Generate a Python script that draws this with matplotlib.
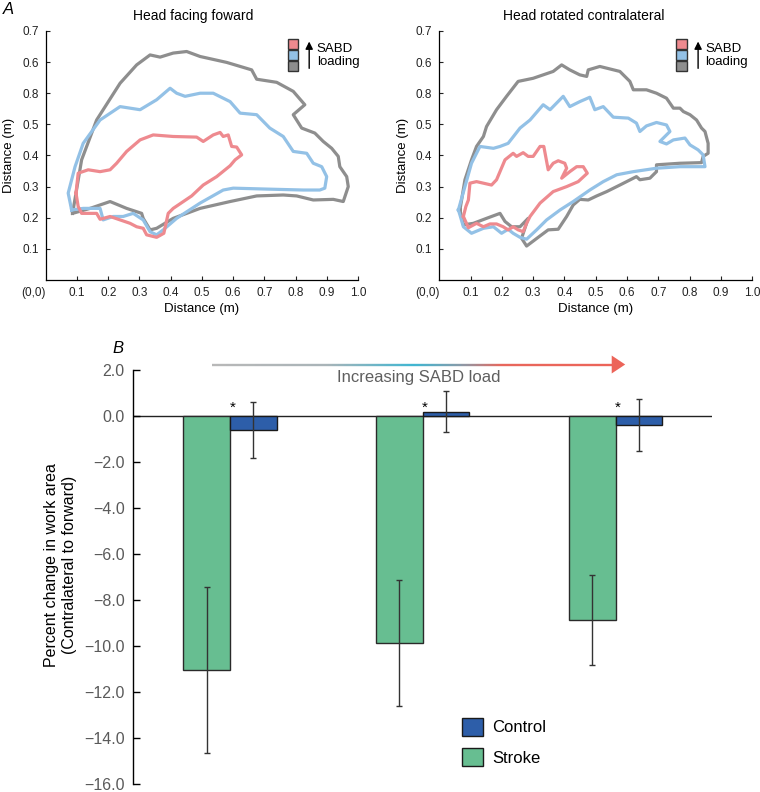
import numpy as np
import matplotlib
matplotlib.use('Agg')
import matplotlib.pyplot as plt
from matplotlib.collections import LineCollection
from matplotlib.colors import LinearSegmentedColormap
from matplotlib.patches import Patch, Rectangle, Polygon

plt.rcParams['font.family'] = ['Liberation Sans', 'DejaVu Sans']

# ---- Panel A: work area contours (x, y in m) ----
fwd_gray_x = [0.086, 0.115, 0.163, 0.238, 0.291, 0.334, 0.366, 0.408, 0.451, 0.494, 0.579, 0.659, 0.675,
              0.739, 0.792, 0.829, 0.792, 0.819, 0.861, 0.888, 0.915, 0.936, 0.941, 0.963, 0.968, 0.952,
              0.920, 0.856, 0.803, 0.760, 0.675, 0.590, 0.494, 0.408, 0.355, 0.334, 0.312, 0.307, 0.259,
              0.206, 0.142, 0.086]
fwd_gray_y = [0.214, 0.386, 0.514, 0.632, 0.691, 0.723, 0.716, 0.729, 0.734, 0.718, 0.699, 0.675, 0.645,
              0.635, 0.606, 0.563, 0.531, 0.488, 0.472, 0.445, 0.423, 0.397, 0.364, 0.332, 0.300, 0.252,
              0.259, 0.257, 0.270, 0.273, 0.270, 0.252, 0.230, 0.198, 0.166, 0.161, 0.198, 0.214, 0.230,
              0.252, 0.230, 0.214]
fwd_blue_x = [0.083, 0.072, 0.094, 0.120, 0.174, 0.238, 0.302, 0.355, 0.398, 0.419, 0.446, 0.494, 0.536,
              0.590, 0.622, 0.675, 0.717, 0.760, 0.792, 0.835, 0.856, 0.883, 0.899, 0.893, 0.877, 0.824,
              0.707, 0.600, 0.568, 0.494, 0.419, 0.376, 0.355, 0.334, 0.312, 0.280, 0.248, 0.216, 0.184,
              0.174, 0.120, 0.083]
fwd_blue_y = [0.225, 0.279, 0.364, 0.439, 0.514, 0.557, 0.547, 0.579, 0.616, 0.600, 0.590, 0.600, 0.600,
              0.573, 0.536, 0.531, 0.488, 0.461, 0.413, 0.407, 0.375, 0.364, 0.332, 0.295, 0.289, 0.289,
              0.292, 0.295, 0.289, 0.247, 0.198, 0.161, 0.145, 0.155, 0.193, 0.214, 0.204, 0.204, 0.193,
              0.230, 0.230, 0.225]
fwd_red_x = [0.097, 0.104, 0.136, 0.174, 0.206, 0.227, 0.259, 0.302, 0.344, 0.408, 0.483, 0.504, 0.536,
             0.558, 0.568, 0.584, 0.595, 0.611, 0.627, 0.606, 0.590, 0.547, 0.504, 0.467, 0.408, 0.392,
             0.378, 0.355, 0.323, 0.312, 0.291, 0.270, 0.238, 0.206, 0.174, 0.163, 0.115, 0.104, 0.097]
fwd_red_y = [0.279, 0.343, 0.354, 0.348, 0.354, 0.375, 0.413, 0.450, 0.466, 0.461, 0.459, 0.445, 0.466,
             0.474, 0.461, 0.466, 0.429, 0.427, 0.402, 0.386, 0.367, 0.332, 0.305, 0.270, 0.230, 0.214,
             0.150, 0.137, 0.145, 0.166, 0.171, 0.182, 0.193, 0.204, 0.195, 0.214, 0.214, 0.236, 0.279]

rot_gray_x = [0.066, 0.082, 0.103, 0.119, 0.141, 0.151, 0.183, 0.215, 0.252, 0.300, 0.364, 0.391, 0.417,
              0.449, 0.471, 0.476, 0.513, 0.577, 0.609, 0.620, 0.662, 0.694, 0.726, 0.737, 0.748, 0.769,
              0.780, 0.801, 0.822, 0.838, 0.849, 0.859, 0.859, 0.843, 0.838, 0.769, 0.694, 0.694, 0.673,
              0.641, 0.630, 0.577, 0.535, 0.503, 0.476, 0.449, 0.428, 0.407, 0.380, 0.348, 0.316, 0.279,
              0.263, 0.284, 0.258, 0.231, 0.210, 0.194, 0.151, 0.109, 0.077, 0.066]
rot_gray_y = [0.225, 0.322, 0.386, 0.429, 0.461, 0.493, 0.547, 0.590, 0.638, 0.648, 0.670, 0.691, 0.675,
              0.659, 0.654, 0.675, 0.686, 0.670, 0.638, 0.611, 0.611, 0.600, 0.584, 0.568, 0.552, 0.552,
              0.541, 0.531, 0.514, 0.488, 0.477, 0.439, 0.407, 0.397, 0.377, 0.375, 0.370, 0.348, 0.327,
              0.322, 0.332, 0.305, 0.284, 0.270, 0.257, 0.259, 0.241, 0.204, 0.163, 0.161, 0.137, 0.109,
              0.134, 0.198, 0.171, 0.171, 0.188, 0.214, 0.198, 0.182, 0.177, 0.225]
rot_blue_x = [0.061, 0.082, 0.103, 0.130, 0.173, 0.194, 0.220, 0.258, 0.290, 0.332, 0.354, 0.396, 0.417,
              0.449, 0.481, 0.497, 0.524, 0.556, 0.604, 0.630, 0.641, 0.662, 0.694, 0.726, 0.737, 0.705,
              0.726, 0.748, 0.785, 0.801, 0.827, 0.843, 0.849, 0.769, 0.694, 0.620, 0.567, 0.524, 0.481,
              0.428, 0.386, 0.343, 0.311, 0.279, 0.258, 0.236, 0.220, 0.199, 0.173, 0.141, 0.103, 0.077,
              0.066, 0.061]
rot_blue_y = [0.225, 0.300, 0.375, 0.429, 0.423, 0.429, 0.439, 0.488, 0.514, 0.563, 0.547, 0.590, 0.557,
              0.573, 0.587, 0.547, 0.557, 0.523, 0.520, 0.504, 0.477, 0.495, 0.506, 0.498, 0.477, 0.445,
              0.437, 0.450, 0.456, 0.434, 0.418, 0.402, 0.364, 0.364, 0.359, 0.348, 0.338, 0.316, 0.289,
              0.252, 0.225, 0.193, 0.161, 0.131, 0.137, 0.150, 0.163, 0.150, 0.171, 0.166, 0.150, 0.171,
              0.209, 0.225]
rot_red_x = [0.077, 0.085, 0.093, 0.098, 0.119, 0.167, 0.183, 0.210, 0.236, 0.247, 0.268, 0.284, 0.300,
             0.311, 0.322, 0.334, 0.348, 0.364, 0.380, 0.401, 0.407, 0.391, 0.417, 0.439, 0.460, 0.473,
             0.444, 0.407, 0.364, 0.322, 0.290, 0.279, 0.268, 0.252, 0.236, 0.220, 0.204, 0.183, 0.162,
             0.141, 0.119, 0.093, 0.077]
rot_red_y = [0.204, 0.236, 0.257, 0.311, 0.316, 0.305, 0.322, 0.386, 0.407, 0.397, 0.409, 0.397, 0.397,
             0.413, 0.429, 0.429, 0.354, 0.375, 0.383, 0.375, 0.359, 0.327, 0.348, 0.364, 0.364, 0.343,
             0.316, 0.300, 0.284, 0.247, 0.204, 0.182, 0.155, 0.161, 0.171, 0.161, 0.171, 0.180, 0.180,
             0.171, 0.182, 0.168, 0.204]

a_xticks = [0.0, 0.1, 0.2, 0.3, 0.4, 0.5, 0.6, 0.7, 0.8, 0.9, 1.0]
a_xlabels = ['(0,0)', '0.1', '0.2', '0.3', '0.4', '0.5', '0.6', '0.7', '0.8', '0.9', '1.0']
a_yticks = [0.1, 0.2, 0.3, 0.4, 0.5, 0.6, 0.7, 0.8]
a_ylabels = ['0.1', '0.2', '0.3', '0.4', '0.5', '0.8', '0.6', '0.7']

# ---- Panel B: percent change in work area ----
groups = [0, 1, 2]
stroke_mean = [-11.05, -9.88, -8.87]
stroke_err = [3.6, 2.75, 1.96]
control_mean = [-0.61, 0.19, -0.39]
control_err = [1.2, 0.9, 1.12]
b_yticks = [2, 0, -2, -4, -6, -8, -10, -12, -14, -16]

RED = '#ee8a8f'
BLUE_L = '#93c1e6'
GRAY = '#8e8e8e'
GREEN = '#67be91'
BLUE = '#2d5ea9'

fig = plt.figure(figsize=(7.6, 7.92), dpi=100)

ax_l = fig.add_axes([0.0601, 0.6465, 0.4113, 0.3144])
ax_r = fig.add_axes([0.5780, 0.6465, 0.4118, 0.3144])

panels = [
    (ax_l, fwd_gray_x, fwd_gray_y, fwd_blue_x, fwd_blue_y, fwd_red_x, fwd_red_y),
    (ax_r, rot_gray_x, rot_gray_y, rot_blue_x, rot_blue_y, rot_red_x, rot_red_y),
]
for ax, gx, gy, bx, by, rx, ry in panels:
    ax.plot(gx, gy, color=GRAY, lw=2.3, solid_joinstyle='round')
    ax.plot(bx, by, color=BLUE_L, lw=2.3, solid_joinstyle='round')
    ax.plot(rx, ry, color=RED, lw=2.3, solid_joinstyle='round')
    ax.set_xlim(0, 1.0)
    ax.set_ylim(0, 0.8)
    ax.spines['top'].set_visible(False)
    ax.spines['right'].set_visible(False)
    ax.spines['left'].set_linewidth(0.9)
    ax.spines['bottom'].set_linewidth(0.9)
    ax.set_xticks(a_xticks)
    ax.set_xticklabels(a_xlabels, fontsize=8.5)
    ax.get_xticklabels()[0].set_ha('right')
    ax.set_yticks(a_yticks)
    ax.set_yticklabels(a_ylabels, fontsize=8.5)
    ax.tick_params(direction='in', length=3, width=0.8, pad=5, colors='#222222')
    ax.xaxis.get_major_ticks()[0].tick1line.set_visible(False)
    ax.set_xlabel('Distance (m)', fontsize=9.5, labelpad=3)
    ax.set_ylabel('Distance (m)', fontsize=9.5, labelpad=5)

    # SABD loading key
    for i, c in enumerate([RED, BLUE_L, GRAY]):
        x0 = 0.774 if ax is ax_l else 0.756
        ax.add_patch(Rectangle((x0, 0.741 - i * 0.035), 0.034, 0.032, facecolor=c,
                               edgecolor='#333333', lw=1.0, clip_on=False))
    xa = 0.843 if ax is ax_l else 0.827
    ax.annotate('', xy=(xa, 0.775), xytext=(xa, 0.671),
                arrowprops=dict(arrowstyle='-|>', color='black', lw=1.0, mutation_scale=11))
    ax.text(xa + 0.024, 0.743, 'SABD', fontsize=9.5, va='center', ha='left')
    ax.text(xa + 0.024, 0.700, 'loading', fontsize=9.5, va='center', ha='left')

fig.text(193 / 760, 1 - 16 / 792, 'Head facing foward', fontsize=10, ha='center', va='center')
fig.text(584 / 760, 1 - 16 / 792, 'Head rotated contralateral', fontsize=10, ha='center', va='center')
fig.text(0.004, 1 - 9 / 792, 'A', fontsize=12, style='italic', ha='left', va='center')

# ---- Panel B ----
ax = fig.add_axes([0.175, 0.0101, 0.7618, 0.5227])
w = 0.242
xs = np.array(groups, dtype=float)
ax.bar(xs - w / 2, stroke_mean, w, color=GREEN, edgecolor='#2a2a2a', lw=1.0, zorder=2)
ax.bar(xs + w / 2, control_mean, w, color=BLUE, edgecolor='#1a1a1a', lw=1.0, zorder=2)
ax.errorbar(xs - w / 2, stroke_mean, yerr=stroke_err, fmt='none', ecolor='#333333',
            elinewidth=1.0, capsize=2.2, capthick=1.0, zorder=3)
ax.errorbar(xs + w / 2, control_mean, yerr=control_err, fmt='none', ecolor='#333333',
            elinewidth=1.0, capsize=2.2, capthick=1.0, zorder=3)
ax.axhline(0, color='#222222', lw=1.0, zorder=1)
for x in xs:
    ax.text(x + 0.012, 0.35, '*', fontsize=11, ha='center', va='center')

ax.set_xlim(-0.503, 2.5)
ax.set_ylim(-16, 2)
for s in ['top', 'right', 'bottom']:
    ax.spines[s].set_visible(False)
ax.spines['left'].set_linewidth(1.0)
ax.set_xticks([])
ax.set_yticks(b_yticks)
ax.set_yticklabels([f'{v:.1f}'.replace('-', '\u2212') for v in b_yticks], fontsize=11.5,
                   color='#5a5a5a')
ax.tick_params(axis='y', direction='in', length=5, width=1.0, pad=6)
ax.set_ylabel('Percent change in work area\n(Contralateral to forward)', fontsize=11.5,
              linespacing=1.25)
ax.yaxis.set_label_coords(-0.097, 0.53)

# gradient arrow for increasing load
cmap = LinearSegmentedColormap.from_list(
    'load', [(0.0, '#b8b8b8'), (0.28, '#a9b4b8'), (0.5, '#3fb6d2'), (0.62, '#8a9aa8'),
             (0.72, '#e8675c'), (1.0, '#ec6459')])
xl = np.linspace(-0.093, 2.0, 200)
yl = np.full_like(xl, 2.24)
pts = np.column_stack([xl, yl]).reshape(-1, 1, 2)
segs = np.concatenate([pts[:-1], pts[1:]], axis=1)
lc = LineCollection(segs, cmap=cmap, linewidth=1.7, clip_on=False)
lc.set_array(np.linspace(0, 1, len(segs)))
ax.add_collection(lc)
ax.add_patch(Polygon([[1.98, 2.63], [1.98, 1.85], [2.05, 2.24]], closed=True,
                     facecolor='#ec6459', edgecolor='none', clip_on=False))
ax.text(0.98, 1.68, 'Increasing SABD load', fontsize=12, color='#5f5f5f', ha='center',
        va='center')

handles = [Patch(facecolor=BLUE, edgecolor='#1a1a1a', lw=1.0, label='Control'),
           Patch(facecolor=GREEN, edgecolor='#1a1a1a', lw=1.0, label='Stroke')]
ax.legend(handles=handles, loc='upper left', bbox_to_anchor=(462 / 760, 1 - 718 / 792),
          bbox_transform=fig.transFigure, frameon=False, fontsize=12, handlelength=1.25,
          handleheight=1.25, handletextpad=0.55, labelspacing=0.75, borderpad=0,
          borderaxespad=0)

fig.text(118 / 760, 1 - 348 / 792, 'B', fontsize=12, style='italic', ha='center', va='center')

fig.savefig('out.png', dpi=100)
